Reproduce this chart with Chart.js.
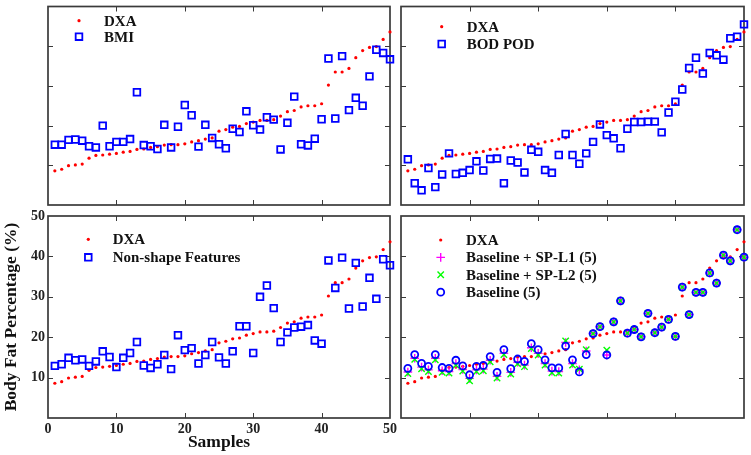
<!DOCTYPE html>
<html><head><meta charset="utf-8">
<script src="https://cdn.jsdelivr.net/npm/chart.js@4.4.0/dist/chart.umd.min.js"></script>
<style>
html,body{margin:0;padding:0;background:#fff;}
#wrap{position:relative;width:751px;height:455px;background:#fff;}
#wrap canvas{position:absolute;left:0;top:0;}
</style></head><body>
<div id="wrap">
<canvas id="c1" width="751" height="455"></canvas>
<canvas id="c2" width="751" height="455"></canvas>
<canvas id="c3" width="751" height="455"></canvas>
<canvas id="c4" width="751" height="455"></canvas>
</div>
<script>
// ---------------- data ----------------
const samples = [1,2,3,4,5,6,7,8,9,10,11,12,13,14,15,16,17,18,19,20,21,22,23,24,25,26,27,28,29,30,31,32,33,34,35,36,37,38,39,40,41,42,43,44,45,46,47,48,49,50];
const dxa = [8.6,9.0,9.9,10.1,10.3,11.8,12.5,12.6,12.8,13.0,13.3,13.5,14.0,14.1,14.5,14.7,15.1,15.2,15.2,15.4,15.9,16.2,16.6,16.9,18.6,19.0,19.6,19.8,20.5,20.9,21.3,21.3,21.5,22.4,23.5,23.8,24.7,25.0,25.0,25.5,30.2,33.5,33.5,34.4,37.1,38.9,39.7,39.9,41.7,43.6];
const bmi = [15.2,15.2,16.4,16.5,16.2,14.8,14.5,20.0,14.8,15.9,15.9,16.6,28.4,15.1,14.8,14.1,20.2,14.5,19.7,25.2,22.6,14.7,20.2,16.9,15.3,14.3,19.2,18.4,23.6,20.1,19.0,22.1,21.5,14.0,20.7,27.3,15.3,15.0,16.7,21.6,36.9,21.8,37.5,23.9,27.0,25.0,32.4,39.1,38.3,36.7];
const bodPod = [11.5,5.5,3.7,9.3,4.5,7.7,13.0,7.8,8.1,8.8,11.0,8.7,11.6,11.7,5.5,11.2,10.7,8.2,13.9,13.4,8.8,8.1,12.6,17.9,12.6,10.4,13.0,15.9,20.3,17.6,16.8,14.3,19.2,20.9,20.9,21.0,21.0,18.3,23.3,26.0,29.1,34.5,37.1,33.1,38.3,37.7,36.6,42.0,42.4,45.5];
const nonShape = [12.9,13.3,14.9,14.3,14.5,12.9,14.0,16.5,15.1,12.6,14.9,16.1,18.8,13.0,12.4,13.3,15.6,12.1,20.5,16.8,17.3,13.5,15.6,18.8,15.0,13.5,16.5,22.7,22.7,16.1,30.0,32.8,27.2,18.8,21.2,22.4,22.6,23.0,19.2,18.4,39.0,32.2,39.7,27.1,38.4,27.6,34.7,29.5,39.3,37.8];
const baseline = [12.3,15.7,13.5,12.8,15.7,12.5,12.3,14.3,12.9,10.7,12.8,13.0,15.2,11.3,16.9,12.2,14.6,14.0,18.4,16.9,14.4,12.4,12.4,17.8,14.4,11.4,15.7,20.9,22.6,15.6,23.8,29.0,21.0,21.9,20.1,25.9,21.1,22.5,24.4,20.2,32.4,25.6,31.1,31.1,35.9,33.4,40.3,38.9,46.6,39.8];
const spL1 = [11.4,14.8,12.6,11.9,14.8,11.7,11.5,13.5,12.0,9.8,11.9,12.1,14.3,10.3,16.0,11.3,13.8,13.1,17.4,16.0,13.5,11.6,11.5,18.7,13.5,11.9,16.6,20.9,22.6,15.6,23.8,29.0,21.0,21.9,20.1,25.9,21.1,22.5,24.4,20.2,32.4,25.6,31.1,31.1,35.9,33.4,40.3,38.9,46.6,39.8];
const spL2 = [11.0,14.5,12.2,11.5,14.4,11.3,11.1,13.1,11.6,9.2,11.5,11.7,13.9,9.9,15.7,10.9,13.4,12.7,17.2,15.6,13.1,11.2,11.1,19.1,13.1,12.1,16.9,20.9,22.6,16.8,23.8,29.0,21.0,21.9,20.1,25.9,21.1,22.5,24.4,20.2,32.4,25.6,31.1,31.1,35.9,33.4,40.3,38.9,46.6,39.8];
const xTicks = [0,10,20,30,40,50];
const yTicks = [0,10,20,30,40,50];
const yTickLabels = ['','10','20','30','40','50'];
const xTickLabels = ['0','10','20','30','40','50'];

// ---------------- helpers ----------------
const FONT = '"Liberation Serif","Times New Roman",serif';
const pts = arr => samples.map((s,i)=>({x:s,y:arr[i]}));

function dsDXA(){ return {label:'DXA', data:pts(dxa), pointStyle:'circle', pointRadius:1.6, pointBackgroundColor:'#ff0000', pointBorderWidth:0, pointBorderColor:'#ff0000', order:5}; }
function dsSquares(label, arr){ return {label, data:pts(arr), pointStyle:'rect', pointRadius:4.7, pointBackgroundColor:'rgba(0,0,0,0)', pointBorderColor:'#0000ff', pointBorderWidth:1.8, order:1}; }

const frameTicks = {
  id:'frameTicks',
  beforeDatasetsDraw(chart){
    const {ctx, chartArea:a} = chart; const x=chart.scales.x, y=chart.scales.y;
    ctx.save();
    ctx.strokeStyle='#3a3a3a'; ctx.lineWidth=1; const L=5;
    ctx.beginPath();
    xTicks.slice(1,-1).forEach(v=>{const p=Math.round(x.getPixelForValue(v))+0.5;
      ctx.moveTo(p,a.bottom); ctx.lineTo(p,a.bottom-L); ctx.moveTo(p,a.top); ctx.lineTo(p,a.top+L);});
    yTicks.slice(1,-1).forEach(v=>{const p=Math.round(y.getPixelForValue(v))+0.5;
      ctx.moveTo(a.left,p); ctx.lineTo(a.left+L,p); ctx.moveTo(a.right,p); ctx.lineTo(a.right-L,p);});
    ctx.stroke();
    ctx.lineWidth=1.7;
    ctx.strokeRect(a.left,a.top,a.right-a.left,a.bottom-a.top);
    ctx.restore();
  }
};

const panelLegend = {
  id:'panelLegend',
  afterDraw(chart, args, opts){
    if(!opts || !opts.items) return;
    const ctx=chart.ctx;
    ctx.save();
    opts.items.forEach((di,k)=>{
      const ds=chart.data.datasets[di];
      const yy=opts.y+k*opts.dy;
      ctx.fillStyle=ds.pointBackgroundColor; ctx.strokeStyle=ds.pointBorderColor; ctx.lineWidth=ds.pointBorderWidth;
      Chart.helpers.drawPoint(ctx,{pointStyle:ds.pointStyle,radius:ds.pointRadius,rotation:0,borderWidth:ds.pointBorderWidth},opts.x,yy);
      ctx.fillStyle='#111'; ctx.font='bold 15px '+FONT; ctx.textBaseline='middle'; ctx.textAlign='left';
      ctx.fillText(ds.label,opts.tx,yy+1);
    });
    ctx.restore();
  }
};

function makeChart(id, padding, datasets, legend, labeled){
  const scaleX = {type:'linear', min:0, max:50, display:!!labeled,
    afterBuildTicks:s=>{s.ticks=xTicks.map(v=>({value:v}));},
    grid:{display:false, drawTicks:false, tickLength:0}, border:{display:false},
    ticks:{font:{family:FONT,size:14,weight:'bold'}, color:'#222', padding:3, maxRotation:0, autoSkip:false,
      callback:(v)=>xTickLabels[xTicks.indexOf(v)]},
    title:{display:!!labeled, text:'Samples', font:{family:FONT,size:17.5,weight:'bold'}, color:'#111', padding:{top:0,bottom:2}}
  };
  const scaleY = {type:'linear', min:0, max:50, display:!!labeled,
    afterBuildTicks:s=>{s.ticks=yTicks.map(v=>({value:v}));},
    grid:{display:false, drawTicks:false, tickLength:0}, border:{display:false},
    ticks:{font:{family:FONT,size:14,weight:'bold'}, color:'#222', padding:3, autoSkip:false,
      callback:(v)=>yTickLabels[yTicks.indexOf(v)]},
    title:{display:!!labeled, text:'Body Fat Percentage (%)', font:{family:FONT,size:17.5,weight:'bold'}, color:'#111', padding:{top:1,bottom:0}}
  };
  if(labeled){
    scaleY.afterFit = s=>{s.width=48;};
    scaleX.afterFit = s=>{s.height=37;};
  }
  datasets.forEach(d=>{d.showLine=false; d.clip=false;});
  return new Chart(document.getElementById(id),{
    type:'scatter',
    data:{datasets},
    options:{responsive:false, animation:false, events:[],
      layout:{padding},
      scales:{x:scaleX,y:scaleY},
      plugins:{legend:{display:false}, tooltip:{enabled:false}, panelLegend:legend}
    },
    plugins:[frameTicks,panelLegend]
  });
}

// top-left: BMI
makeChart('c1',{left:48,top:4,right:361,bottom:250},[dsDXA(),dsSquares('BMI',bmi)],{x:79,y:20.7,dy:16,tx:104,items:[0,1]});
// top-right: BOD POD
makeChart('c2',{left:401,top:4,right:7,bottom:250},[dsDXA(),dsSquares('BOD POD',bodPod)],{x:441.7,y:26.7,dy:17.3,tx:466.7,items:[0,1]});
// bottom-left: Non-shape features
makeChart('c3',{left:0,top:216,right:361,bottom:0},[dsDXA(),dsSquares('Non-shape Features',nonShape)],{x:88.3,y:239.3,dy:18,tx:112.7,items:[0,1]},true);
// bottom-right: Baseline variants
makeChart('c4',{left:401,top:216,right:7,bottom:37},[
  dsDXA(),
  {label:'Baseline + SP-L1 (5)', data:pts(spL1), pointStyle:'cross', pointRadius:4.3, pointBackgroundColor:'rgba(0,0,0,0)', pointBorderColor:'#ff00ff', pointBorderWidth:1.4, order:3},
  {label:'Baseline + SP-L2 (5)', data:pts(spL2), pointStyle:'crossRot', pointRadius:4.5, pointBackgroundColor:'rgba(0,0,0,0)', pointBorderColor:'#00ff00', pointBorderWidth:1.4, order:2},
  {label:'Baseline (5)', data:pts(baseline), pointStyle:'circle', pointRadius:3.5, pointBackgroundColor:'rgba(0,0,0,0)', pointBorderColor:'#0000ff', pointBorderWidth:1.8, order:1}
],{x:440.7,y:240,dy:17.4,tx:466,items:[0,1,2,3]});
</script>
</body></html>
